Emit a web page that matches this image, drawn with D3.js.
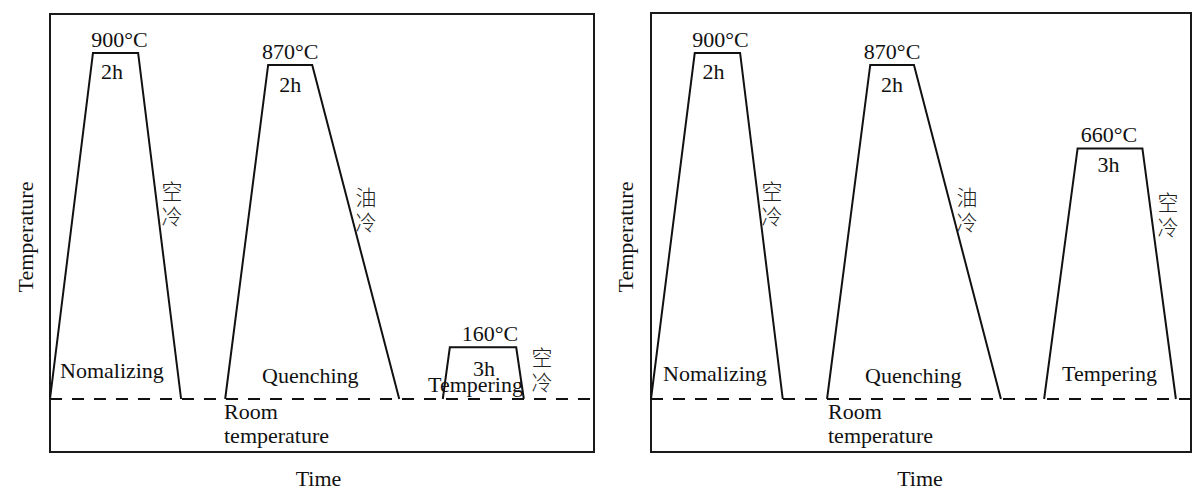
<!DOCTYPE html>
<html>
<head>
<meta charset="utf-8">
<script src="https://cdn.jsdelivr.net/npm/d3@7"></script>
<style>
  body { margin: 0; background: #fff; }
  svg { display: block; }
  .lat { font-family: "Liberation Serif", "Times New Roman", serif; font-size: 22px; fill: #111; }
  .cjk { font-family: "Noto Sans CJK SC", sans-serif; font-size: 21px; fill: #222; font-weight: 300;
         writing-mode: vertical-rl; letter-spacing: 4px; }
</style>
</head>
<body>
<svg id="chart" width="1192" height="490"></svg>
<script>
// ---------------- DATA ----------------
const stages = ["Nomalizing", "Quenching", "Tempering"];
const coolings = ["空冷", "油冷", "空冷"];
const holdTimes = ["2h", "2h", "3h"];
const roomTemp = 30;                       // room temperature level (schematic)
const tempsA = [900, 870, 160];            // left chart: hold temperatures (°C)
const tempsB = [900, 870, 660];            // right chart: hold temperatures (°C)
// time breakpoints of each stage: [start heating, reach temp, end hold, back to room]
const timesA = [[0, 7.9, 16.2, 24.1], [32.2, 40.1, 48.2, 64.2], [72.2, 73.5, 85.7, 87.1]];
const timesB = [[0, 8.1, 16.5, 24.4], [32.6, 40.6, 48.7, 64.8], [72.8, 79.0, 91.0, 97.2]];
const axisLabels = { x: "Time", y: "Temperature" };
const roomLabel = ["Room", "temperature"];

// ---------------- LAYOUT ----------------
const panels = [
  { temps: tempsA, times: timesA, left: 50, top: 14, right: 594, bottom: 452,
    stageLbl: [[60, 378], [262, 383], [428, 392]],
    holdDx: [-3.5, 0, 1], holdDy: [26, 27, 29], tempDx: [4, 0, 7],
    cool: [[172, 181], [366, 187], [542, 347]],
    room: 224, timeX: 318.5, tempAxisX: 33 },
  { temps: tempsB, times: timesB, left: 651, top: 13, right: 1191, bottom: 452,
    stageLbl: [[663, 381], [865, 383], [1062, 381]],
    holdDx: [-4, 0, -1.5], holdDy: [26, 27, 24], tempDx: [3, 0, -1],
    cool: [[772, 181], [967, 187], [1168, 192]],
    room: 828, timeX: 920, tempAxisX: 633 }
];

const svg = d3.select("#chart");

panels.forEach(p => {
  const x = d3.scaleLinear().domain([0, 100]).range([p.left, p.right]);
  const y = d3.scaleLinear().domain([roomTemp, d3.max(p.temps)]).range([399, 53]);
  const g = svg.append("g");

  // frame
  g.append("rect")
    .attr("x", p.left).attr("y", p.top)
    .attr("width", p.right - p.left).attr("height", p.bottom - p.top)
    .attr("fill", "none").attr("stroke", "#1a1a1a").attr("stroke-width", 2);

  // room-temperature dashed line
  g.append("line")
    .attr("x1", x(0)).attr("x2", x(100))
    .attr("y1", y(roomTemp)).attr("y2", y(roomTemp))
    .attr("stroke", "#111").attr("stroke-width", 2)
    .attr("stroke-dasharray", "12,10");

  const line = d3.line().x(d => x(d[0])).y(d => y(d[1]));

  stages.forEach((s, i) => {
    const t = p.times[i], T = p.temps[i];
    const pts = [[t[0], roomTemp], [t[1], T], [t[2], T], [t[3], roomTemp]];
    g.append("path").attr("d", line(pts))
      .attr("fill", "none").attr("stroke", "#111").attr("stroke-width", 2)
      .attr("stroke-linejoin", "miter");

    const mid = (x(t[1]) + x(t[2])) / 2;
    // temperature label
    g.append("text").attr("class", "lat")
      .attr("x", mid + p.tempDx[i]).attr("y", y(T) - 6)
      .attr("text-anchor", "middle").text(T + "°C");
    // hold time label
    g.append("text").attr("class", "lat")
      .attr("x", mid + p.holdDx[i]).attr("y", y(T) + p.holdDy[i])
      .attr("text-anchor", "middle").text(holdTimes[i]);
    // stage name
    g.append("text").attr("class", "lat")
      .attr("x", p.stageLbl[i][0]).attr("y", p.stageLbl[i][1]).text(s);
    // cooling label (vertical writing)
    g.append("text").attr("class", "cjk")
      .attr("x", p.cool[i][0]).attr("y", p.cool[i][1])
      .text(coolings[i]);
  });

  // room temperature label
  roomLabel.forEach((r, k) => {
    g.append("text").attr("class", "lat")
      .attr("x", p.room).attr("y", 419 + k * 24).text(r);
  });

  // axis labels
  g.append("text").attr("class", "lat")
    .attr("x", p.timeX).attr("y", 486).attr("text-anchor", "middle").text(axisLabels.x);
  g.append("text").attr("class", "lat")
    .attr("transform", `translate(${p.tempAxisX},237) rotate(-90)`)
    .attr("text-anchor", "middle").text(axisLabels.y);
});
</script>
</body>
</html>
